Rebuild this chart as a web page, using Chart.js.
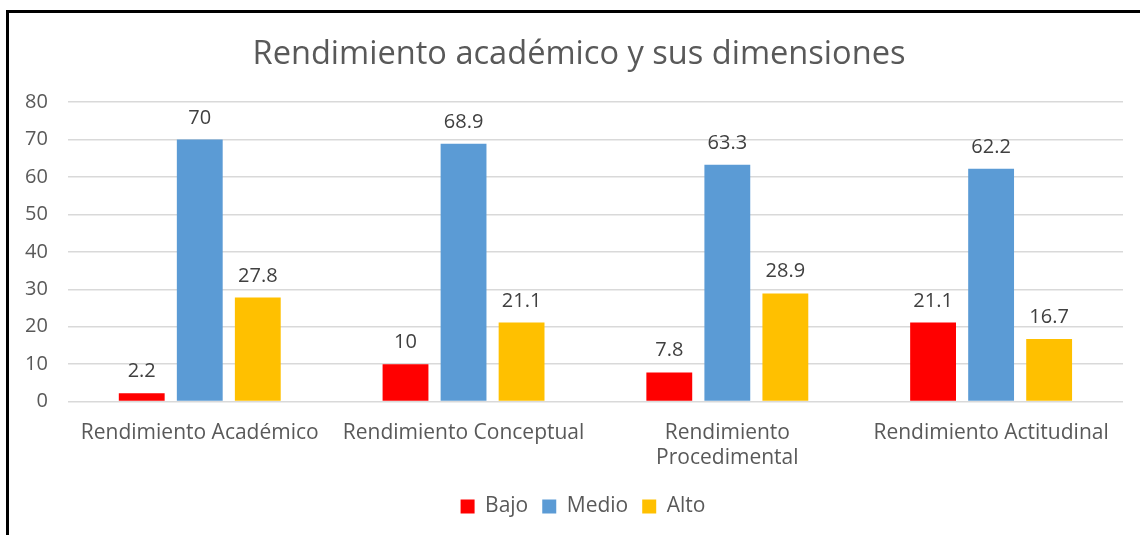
<!DOCTYPE html>
<html>
<head>
<meta charset="utf-8">
<script src="https://cdn.jsdelivr.net/npm/chart.js@4.4.0/dist/chart.umd.min.js"></script>
<style>
  body { margin: 0; background: #fff; }
  #wrap { position: relative; width: 1140px; height: 535px; }
  #frame { position: absolute; left: 6px; top: 10px; right: 0; bottom: 0;
           border-top: 3px solid #000; border-left: 3px solid #000; pointer-events: none; }
</style>
</head>
<body>
<div id="wrap">
  <canvas id="chart" width="1140" height="535"></canvas>
  <div id="frame"></div>
</div>
<script>
const categories = ['Rendimiento Académico', 'Rendimiento Conceptual', ['Rendimiento', 'Procedimental'], 'Rendimiento Actitudinal'];
const bajo = [2.2, 10, 7.8, 21.1];
const medio = [70, 68.9, 63.3, 62.2];
const alto = [27.8, 21.1, 28.9, 16.7];
const yTicks = [0, 10, 20, 30, 40, 50, 60, 70, 80];

const fontFamily = '"Open Sans", "Noto Sans", sans-serif';

// value labels drawn above each bar
const valueLabels = {
    id: 'valueLabels',
    afterDatasetsDraw(chart) {
        const ctx = chart.ctx;
        ctx.save();
        ctx.font = '20px ' + fontFamily;
        ctx.fillStyle = '#404040';
        ctx.textAlign = 'center';
        ctx.textBaseline = 'alphabetic';
        chart.data.datasets.forEach((ds, i) => {
            const meta = chart.getDatasetMeta(i);
            meta.data.forEach((bar, j) => {
                ctx.fillText(String(ds.data[j]), bar.x, bar.y - 16);
            });
        });
        ctx.restore();
    }
};

// title and legend sit a bit right of the canvas centre in the original
const boxShift = {
    id: 'boxShift',
    afterLayout(chart) {
        const t = chart.titleBlock;
        if (t) { t.left += 15; t.right += 15; }
        const lg = chart.legend;
        if (lg) {
            lg.left += 19;
            lg.right += 19;
            if (lg.adjustHitBoxes) lg.adjustHitBoxes();
        }
    }
};

const ctx = document.getElementById('chart').getContext('2d');
new Chart(ctx, {
    type: 'bar',
    data: {
        labels: categories,
        datasets: [
            { label: 'Bajo', data: bajo, backgroundColor: '#FF0000' },
            { label: 'Medio', data: medio, backgroundColor: '#5B9BD5' },
            { label: 'Alto', data: alto, backgroundColor: '#FFC000' }
        ]
    },
    options: {
        responsive: false,
        animation: false,
        categoryPercentage: 0.66,
        barPercentage: 0.79,
        layout: { padding: { left: 5, right: 17, top: 35, bottom: 8 } },
        scales: {
            x: {
                grid: { display: false },
                border: { display: false },
                ticks: { color: '#595959', font: { family: fontFamily, size: 21, lineHeight: 1.2 }, padding: 11, maxRotation: 0 }
            },
            y: {
                min: 0,
                max: 80,
                afterBuildTicks(axis) { axis.ticks = yTicks.map(v => ({ value: v })); },
                grid: { color: '#d9d9d9', lineWidth: 1.5, drawTicks: false },
                border: { display: false },
                ticks: { color: '#595959', font: { family: fontFamily, size: 20 }, padding: 20 }
            }
        },
        plugins: {
            title: {
                display: true,
                text: 'Rendimiento académico y sus dimensiones',
                color: '#595959',
                font: { family: fontFamily, size: 32.6, weight: 'normal' },
                padding: { top: 0, bottom: 28 }
            },
            legend: {
                position: 'bottom',
                labels: {
                    color: '#595959',
                    font: { family: fontFamily, size: 21 },
                    boxWidth: 14,
                    boxHeight: 14,
                    padding: 14
                }
            },
            tooltip: { enabled: false }
        }
    },
    plugins: [valueLabels, boxShift]
});
</script>
</body>
</html>
